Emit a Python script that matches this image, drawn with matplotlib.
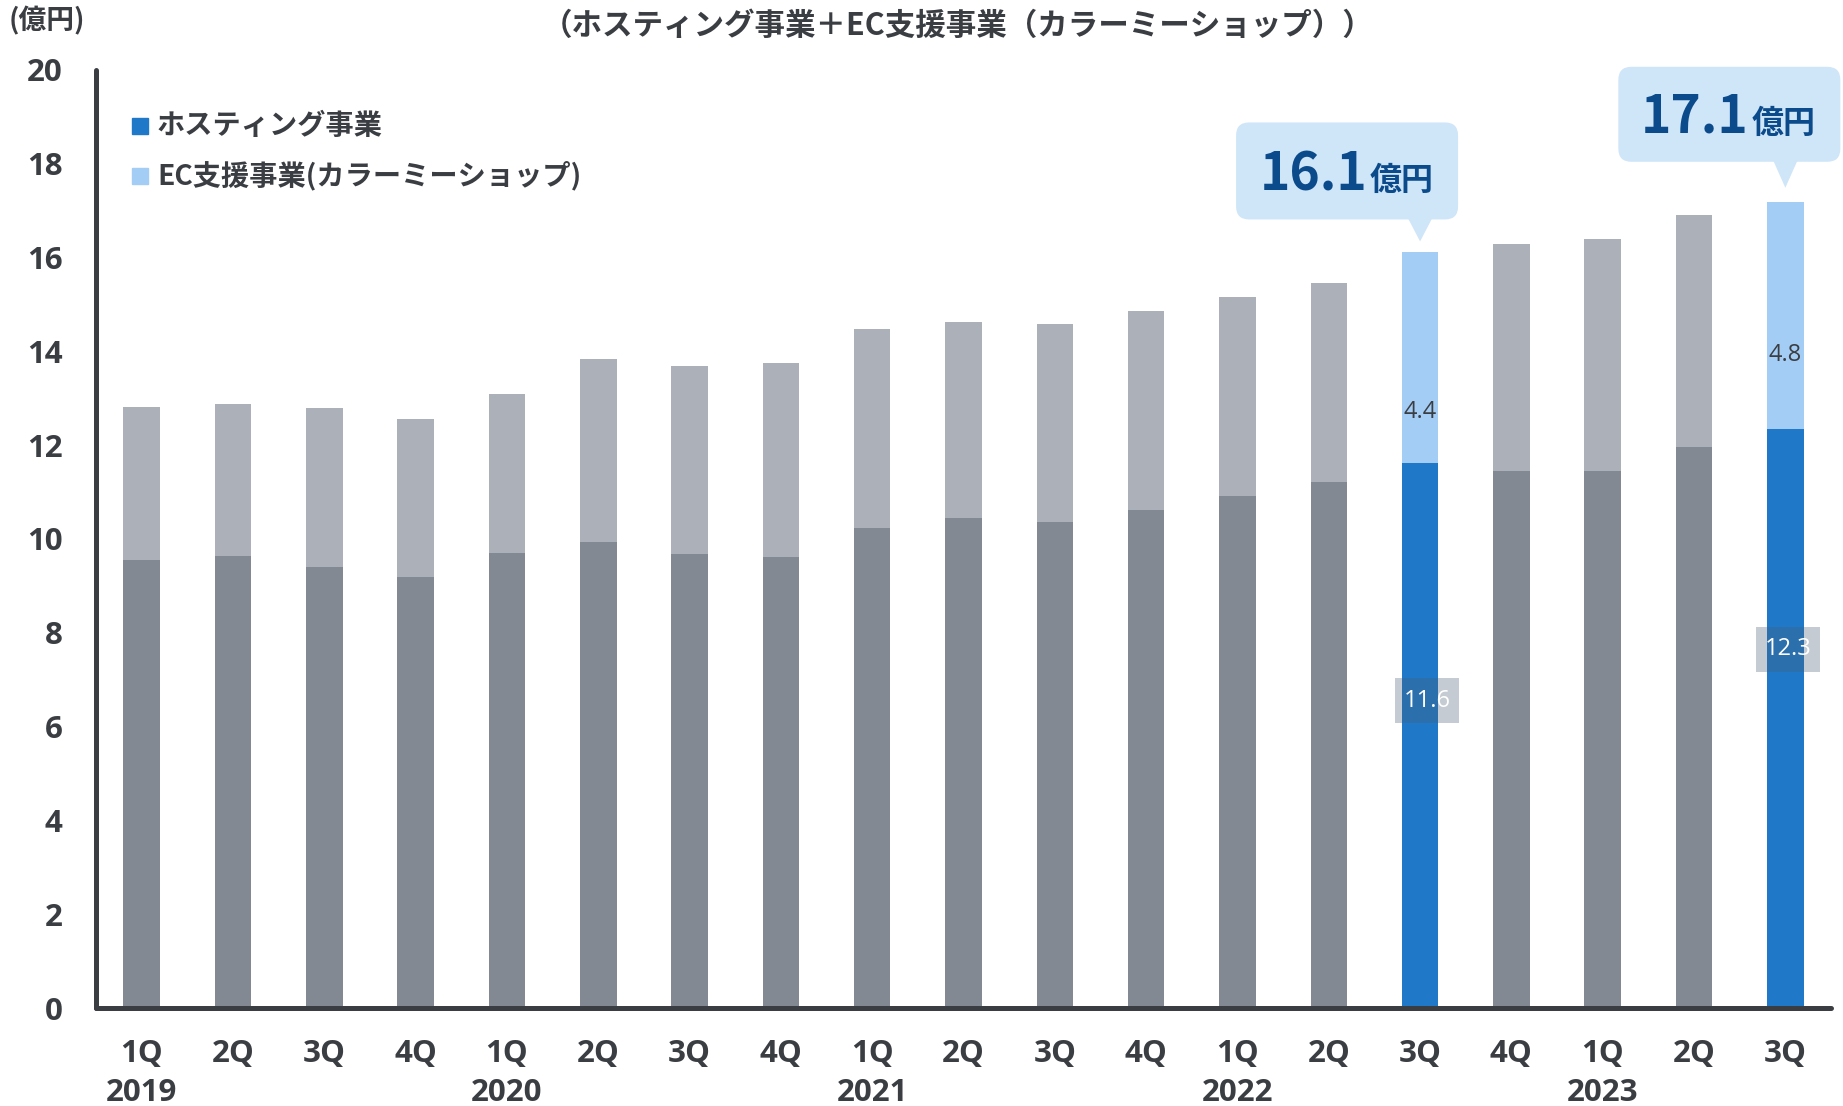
import matplotlib
matplotlib.use("Agg")
import matplotlib.pyplot as plt
from matplotlib.patches import FancyBboxPatch, Polygon, Rectangle
from matplotlib.transforms import ScaledTranslation

plt.rcParams['font.family'] = ['Noto Sans CJK JP', 'DejaVu Sans']

# ---------------- data ----------------
quarters = ["1Q", "2Q", "3Q", "4Q", "1Q", "2Q", "3Q", "4Q", "1Q", "2Q", "3Q", "4Q",
            "1Q", "2Q", "3Q", "4Q", "1Q", "2Q", "3Q"]
years = ["2019", "2020", "2021", "2022", "2023"]
year_index = [0, 4, 8, 12, 16]
hosting = [9.56, 9.64, 9.41, 9.18, 9.71, 9.94, 9.69, 9.61, 10.24, 10.44, 10.36, 10.61,
           10.92, 11.22, 11.62, 11.44, 11.44, 11.97, 12.35]
ec = [3.26, 3.23, 3.39, 3.37, 3.39, 3.89, 3.99, 4.14, 4.24, 4.19, 4.22, 4.25,
      4.24, 4.24, 4.49, 4.85, 4.95, 4.94, 4.84]
highlight = [14, 18]
callout_values = ["16.1", "17.1"]
hosting_labels = ["11.6", "12.3"]
ec_labels = ["4.4", "4.8"]
yticks = [0, 2, 4, 6, 8, 10, 12, 14, 16, 18, 20]

title = "（ホスティング事業＋EC支援事業（カラーミーショップ））"
unit = "(億円)"
legend_labels = ["ホスティング事業", "EC支援事業(カラーミーショップ)"]

# ---------------- style ----------------
TXT = '#3A3D42'
GREY_D, GREY_L = '#838993', '#ACB0B8'
BLUE_D, BLUE_L = '#1F78C8', '#A3CDF5'
CALL_BG, CALL_TX = '#CFE5F8', '#0B4A8B'
W, H = 1843, 1106
LATIN = ['Open Sans', 'Noto Sans CJK JP', 'DejaVu Sans']
TICK_FS = 22.5

# label vertical positions (data units) for the highlighted bars
hosting_label_y = [6.55, 7.65]
hosting_label_dx = [0.07, 0.03]   # inches
ec_label_y = [12.71, 13.92]
# callout geometry in inches relative to the bar top
callout_box = [(-1.84, 0.33, 2.22, 0.97), (-1.67, 0.40, 2.22, 0.95)]
callout_tip = [0.11, 0.14]
callout_text = [(-0.53, 0.62), (-0.37, 0.69)]

fig = plt.figure(figsize=(W / 100, H / 100), dpi=100)
ax = fig.add_axes([96 / W, 1 - 1008 / H, (1831 - 96) / W, 938 / H])

x = list(range(len(quarters)))
dark_cols = [BLUE_D if i in highlight else GREY_D for i in x]
light_cols = [BLUE_L if i in highlight else GREY_L for i in x]
ax.bar(x, hosting, width=0.40, color=dark_cols, zorder=2)
ax.bar(x, ec, bottom=hosting, width=0.40, color=light_cols, zorder=2)

ax.set_xlim(-0.5, 18.5)
ax.set_ylim(0, 20)
ax.set_yticks(yticks)
ax.set_yticklabels([str(v) for v in yticks], fontsize=TICK_FS, fontweight='bold',
                   color=TXT, family=LATIN)
ax.set_xticks(x)
ax.set_xticklabels(quarters, fontsize=TICK_FS, fontweight='bold', color=TXT, family=LATIN)
ax.tick_params(axis='y', length=0, pad=24)
ax.tick_params(axis='x', length=0, pad=22)
for s in ['top', 'right']:
    ax.spines[s].set_visible(False)
for s in ['left', 'bottom']:
    ax.spines[s].set_color(TXT)
    ax.spines[s].set_linewidth(3.6)
    ax.spines[s].set_capstyle('round')

xt = ax.get_xaxis_transform()
for yi, yr in zip(year_index, years):
    ax.text(yi, -0.0905, yr, transform=xt, ha='center', va='center',
            fontsize=TICK_FS, fontweight='bold', color=TXT, family=LATIN)

# title and unit
fig.text(958 / W, 1 - 26 / H, title, ha='center', va='center', fontsize=22,
         fontweight='bold', color=TXT)
fig.text(9 / W, 1 - 21 / H, unit, ha='left', va='center', fontsize=20,
         fontweight='bold', color=TXT)

# legend
for k, (lab, col) in enumerate(zip(legend_labels, [BLUE_D, BLUE_L])):
    yc = 126 + k * 50
    fig.patches.append(Rectangle((132 / W, 1 - (yc + 8) / H), 16 / W, 16 / H,
                                 transform=fig.transFigure, color=col))
    fig.text(157 / W, 1 - yc / H, lab, ha='left', va='center', fontsize=20.3,
             fontweight='bold', color=TXT)

# value labels on highlighted bars
for k, i in enumerate(highlight):
    tr = fig.dpi_scale_trans + ScaledTranslation(i, hosting_label_y[k], ax.transData)
    dx = hosting_label_dx[k]
    ax.add_patch(Rectangle((dx - 0.32, -0.225), 0.64, 0.45, transform=tr,
                           fc='#485E74', alpha=0.32, ec='none', zorder=4, clip_on=False))
    ax.text(dx, 0, hosting_labels[k], transform=tr, ha='center', va='center',
            fontsize=17, color='white', family=LATIN, zorder=5)
    ax.text(i, ec_label_y[k], ec_labels[k], ha='center', va='center',
            fontsize=17, color=TXT, family=LATIN, zorder=4)

# callouts
for k, i in enumerate(highlight):
    top = hosting[i] + ec[i]
    tr = fig.dpi_scale_trans + ScaledTranslation(i, top, ax.transData)
    bx, by, bw, bh = callout_box[k]
    ax.add_patch(FancyBboxPatch((bx, by), bw, bh,
                                boxstyle="round,pad=0,rounding_size=0.13",
                                transform=tr, fc=CALL_BG, ec='none', clip_on=False, zorder=5))
    ax.add_patch(Polygon([(-0.12, by + 0.01), (0.12, by + 0.01), (0, callout_tip[k])],
                         closed=True, transform=tr, fc=CALL_BG, ec='none',
                         clip_on=False, zorder=5))
    tx, ty = callout_text[k]
    ax.text(tx, ty, callout_values[k], transform=tr, ha='right', va='baseline',
            fontsize=37, fontweight='bold', color=CALL_TX, zorder=6)
    ax.text(tx + 0.03, ty, "億円", transform=tr, ha='left', va='baseline',
            fontsize=23, fontweight='bold', color=CALL_TX, zorder=6)

fig.savefig("out.png", dpi=100)
